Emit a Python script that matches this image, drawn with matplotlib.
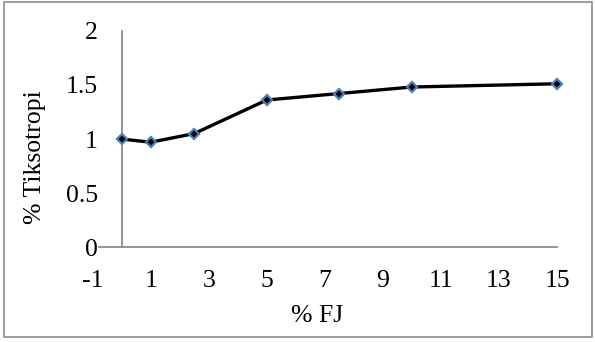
import matplotlib.pyplot as plt
from matplotlib.patches import Rectangle

# data
fj = [0, 1, 2.5, 5, 7.5, 10, 15]
tiksotropi = [1.00, 0.97, 1.05, 1.36, 1.42, 1.48, 1.51]
x_ticks = [-1, 1, 3, 5, 7, 9, 11, 13, 15]
y_ticks = [0, 0.5, 1, 1.5, 2]
y_tick_labels = ["0", "0.5", "1", "1.5", "2"]

plt.rcParams["font.family"] = ["Liberation Serif", "DejaVu Serif"]
axis_grey = "#8c8c8c"
fs = 18.5

W, H = 595, 342
fig = plt.figure(figsize=(W / 100, H / 100), dpi=100)

# plot area in pixels: x=-1 at 92.6, x=15 at 557; y=0 at 247.3, y=2 at 30.7
left, right = 92.6, 557
top, bottom = 30.7, 247.3
ax = fig.add_axes([left / W, 1 - bottom / H, (right - left) / W, (bottom - top) / H])

ax.plot(fj, tiksotropi, color="black", linewidth=2.4, zorder=3,
        marker="D", markersize=5, markerfacecolor="black",
        markeredgecolor="#4a7ebb", markeredgewidth=1.6, clip_on=False)

ax.set_xlim(-1, 15)
ax.set_ylim(0, 2)
ax.set_xticks(x_ticks)
ax.set_xticklabels([str(t) for t in x_ticks])
ax.set_yticks(y_ticks)
ax.set_yticklabels(y_tick_labels)

for s in ["top", "right"]:
    ax.spines[s].set_visible(False)
ax.spines["left"].set_position(("data", 0))
ax.spines["left"].set_color(axis_grey)
ax.spines["left"].set_linewidth(1.3)
ax.spines["bottom"].set_color(axis_grey)
ax.spines["bottom"].set_linewidth(1.3)
ax.spines["bottom"].set_bounds(-0.77, 15)

ax.tick_params(axis="x", length=0, pad=16, labelsize=fs)
ax.tick_params(axis="y", length=0, pad=17, labelsize=fs)

fig.text(317 / W, 1 - 316 / H, "% FJ", ha="center", va="center", fontsize=fs)
fig.text(35 / W, 1 - 157 / H, "% Tiksotropi", ha="center", va="center",
         rotation=90, fontsize=fs)

# chart border
fig.patches.append(Rectangle((4 / W, 1 - 337 / H), 588 / W, 335.5 / H,
                             transform=fig.transFigure, fill=False,
                             edgecolor=axis_grey, linewidth=1.2))

fig.savefig("out.png", dpi=100)
